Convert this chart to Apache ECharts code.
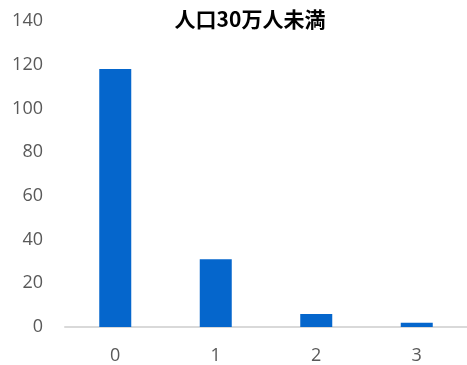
<!DOCTYPE html>
<html>
<head>
<meta charset="utf-8">
<script src="https://cdn.jsdelivr.net/npm/echarts@6/dist/echarts.min.js"></script>
<style>
  html, body { margin: 0; padding: 0; background: #fff; }
  #chart { width: 467px; height: 365px; }
</style>
</head>
<body>
<div id="chart"></div>
<script>
// Number of cases per category, towns under 300k population
const chartTitle = '人口30万人未満';
const categories = ['0', '1', '2', '3'];
const counts = [118, 31, 6, 2];
const yTicks = { min: 0, max: 140, interval: 20 };

const chart = echarts.init(document.getElementById('chart'));
const font = '"Open Sans", "Noto Sans", sans-serif';

chart.setOption({
  animation: false,
  title: {
    text: chartTitle,
    left: 245,
    textAlign: 'center',
    top: 4,
    textStyle: {
      fontFamily: '"Noto Sans CJK JP", sans-serif',
      fontWeight: 'bold',
      fontSize: 21,
      color: '#000'
    }
  },
  grid: { left: 65, right: -3, top: 21, bottom: 37 },
  xAxis: {
    type: 'category',
    data: categories,
    axisLine: { lineStyle: { color: '#d9d9d9', width: 2 } },
    axisTick: { show: false },
    axisLabel: { color: '#595959', fontSize: 18, fontFamily: font, margin: 20 }
  },
  yAxis: {
    type: 'value',
    min: yTicks.min,
    max: yTicks.max,
    interval: yTicks.interval,
    splitLine: { show: false },
    axisLine: { show: false },
    axisTick: { show: false },
    axisLabel: { color: '#595959', fontSize: 18, fontFamily: font, margin: 22 }
  },
  series: [{
    type: 'bar',
    data: counts,
    barWidth: 32,
    itemStyle: { color: '#0566cc' }
  }]
});
</script>
</body>
</html>
